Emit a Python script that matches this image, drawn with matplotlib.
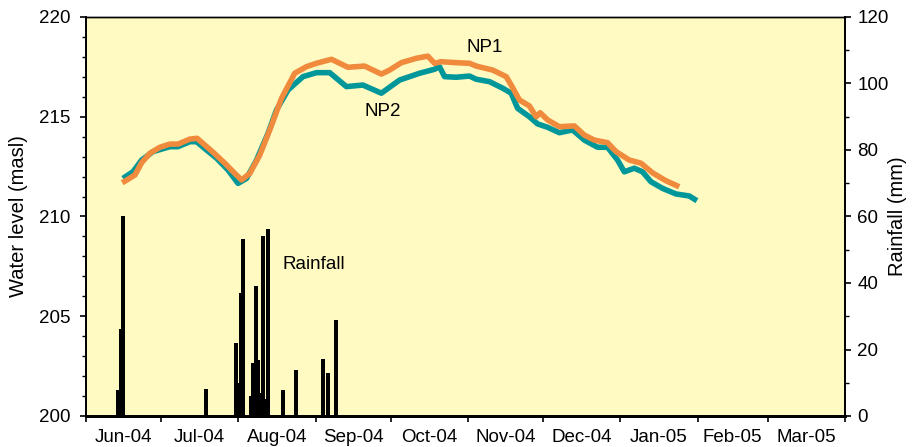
import matplotlib
matplotlib.use("Agg")
import matplotlib.pyplot as plt
from matplotlib.ticker import FixedLocator, MultipleLocator, NullFormatter

plt.rcParams['font.family'] = ['Liberation Sans', 'DejaVu Sans']

# Days counted from 1 June 2004
np1_day = [14.5, 19.6, 22.3, 25.6, 29.6, 33.6, 36.9, 41.6, 44.5, 47.6, 50.9, 55.6, 59.6, 62.3,
           65.6, 69.6, 73.6, 78.3, 83.6, 88.3, 92.3, 98.3, 104.9, 111.6, 118.3, 121.6, 126.3,
           132.3, 136.9, 139.6, 142.3, 148.3, 153.6, 156.3, 162.9, 168.3, 170.3, 173.6, 177.6,
           180.3, 181.9, 184.9, 189.6, 195.6, 199.6, 203.6, 208.9, 212.3, 217.6, 222.3, 226.9,
           232.3, 237.6]
np1_level = [211.69, 212.08, 212.70, 213.17, 213.47, 213.63, 213.63, 213.88, 213.92, 213.58,
             213.22, 212.67, 212.16, 211.83, 212.16, 213.08, 214.34, 215.92, 217.18, 217.51,
             217.68, 217.88, 217.48, 217.54, 217.14, 217.34, 217.71, 217.93, 218.04, 217.68,
             217.76, 217.71, 217.68, 217.54, 217.34, 217.01, 216.59, 215.84, 215.54, 215.00,
             215.20, 214.84, 214.50, 214.54, 214.08, 213.83, 213.70, 213.25, 212.83, 212.67,
             212.19, 211.79, 211.49]

np2_day = [14.8, 18.8, 22.3, 26.8, 33.6, 36.8, 41.6, 44.3, 48.3, 52.3, 56.9, 60.9, 64.3, 68.3,
           72.9, 76.3, 80.9, 86.9, 92.3, 97.6, 104.3, 110.9, 118.3, 125.6, 133.6, 139.6, 141.6,
           143.6, 148.3, 153.6, 156.3, 161.6, 166.9, 170.3, 172.9, 177.6, 180.9, 184.9, 189.6,
           194.9, 199.6, 204.9, 208.9, 212.9, 215.6, 219.6, 222.9, 226.3, 230.9, 236.3, 241.6,
           244.7]
np2_level = [211.91, 212.24, 212.83, 213.25, 213.50, 213.50, 213.75, 213.75, 213.33, 212.92,
             212.33, 211.66, 211.91, 212.83, 214.17, 215.34, 216.34, 217.01, 217.21, 217.21,
             216.51, 216.59, 216.18, 216.84, 217.18, 217.38, 217.51, 217.01, 216.98, 217.04,
             216.88, 216.76, 216.43, 216.18, 215.42, 215.00, 214.64, 214.47, 214.20, 214.34,
             213.83, 213.47, 213.47, 212.83, 212.24, 212.42, 212.24, 211.74, 211.41, 211.13,
             211.03, 210.79]

rain_day = [13, 14, 15, 48, 60, 61, 62, 63, 66, 67, 68, 69, 70, 71, 72, 73, 79, 84, 95, 97, 100]
rain_mm = [7.9, 26.1, 60.2, 8.0, 22.0, 9.8, 37.1, 53.1, 6.0, 15.9, 39.1, 16.9, 7.0, 54.1, 5.0,
           56.2, 7.9, 13.9, 17.0, 12.9, 29.0]

month_start = [0, 30, 61, 92, 122, 153, 183, 214, 245, 273, 304]
month_labels = ['Jun-04', 'Jul-04', 'Aug-04', 'Sep-04', 'Oct-04', 'Nov-04', 'Dec-04',
                'Jan-05', 'Feb-05', 'Mar-05']

BG = '#FFF9C2'
ORANGE = '#F08A3C'
TEAL = '#00979B'
FS = 13.5

fig = plt.figure(figsize=(9.15, 4.47), dpi=100)
ax = fig.add_axes([86/915, 1-416/447, (845-86)/915, (416-17)/447])
ax.set_facecolor(BG)
ax2 = ax.twinx()
ax2.set_facecolor('none')

ax.plot(np2_day, np2_level, color=TEAL, lw=4.0, solid_capstyle='butt', zorder=3)
ax.plot(np1_day, np1_level, color=ORANGE, lw=4.0, solid_capstyle='butt', zorder=4)

ax2.bar(rain_day, rain_mm, width=1.6, color='black', edgecolor='none', align='center')

ax.set_xlim(month_start[0], month_start[-1])
ax.set_ylim(200, 220)
ax2.set_ylim(0, 120)

ax.yaxis.set_major_locator(MultipleLocator(5))
ax.yaxis.set_minor_locator(MultipleLocator(1))
ax2.yaxis.set_major_locator(MultipleLocator(20))
ax2.yaxis.set_minor_locator(MultipleLocator(10))

mids = [(month_start[i] + month_start[i+1]) / 2 for i in range(len(month_labels))]
ax.xaxis.set_major_locator(FixedLocator(month_start))
ax.xaxis.set_major_formatter(NullFormatter())
ax.xaxis.set_minor_locator(FixedLocator(mids))
ax.set_xticklabels(month_labels, minor=True)
ax.tick_params(axis='x', which='major', direction='out', length=4, width=1.2)
ax.tick_params(axis='x', which='minor', length=0, pad=9, labelsize=FS)

ax.tick_params(axis='y', which='major', direction='out', length=4, width=1.2, pad=7, labelsize=FS)
ax.tick_params(axis='y', which='minor', direction='out', length=3, width=1.0)
ax2.tick_params(axis='y', which='major', direction='out', length=4, width=1.2, pad=5, labelsize=FS)
ax2.tick_params(axis='y', which='minor', direction='out', length=3, width=1.0)

for a in (ax, ax2):
    for s in a.spines.values():
        s.set_linewidth(1.3)
    a.spines['bottom'].set_linewidth(2.0)
    a.spines['top'].set_linewidth(1.0)

ax.set_ylabel('Water level (masl)', fontsize=14.5)
ax.yaxis.set_label_coords(-0.077, 0.5)
ax2.set_ylabel('Rainfall (mm)', fontsize=14.5)
ax2.yaxis.set_label_coords(1.057, 0.5)

ax.text(159.6, 218.45, 'NP1', fontsize=FS, ha='center', va='center', zorder=5)
ax.text(119.0, 215.25, 'NP2', fontsize=FS, ha='center', va='center', zorder=5)
ax.text(91.3, 207.57, 'Rainfall', fontsize=FS, ha='center', va='center', zorder=5)

fig.savefig('out.png', dpi=100, facecolor='white')
